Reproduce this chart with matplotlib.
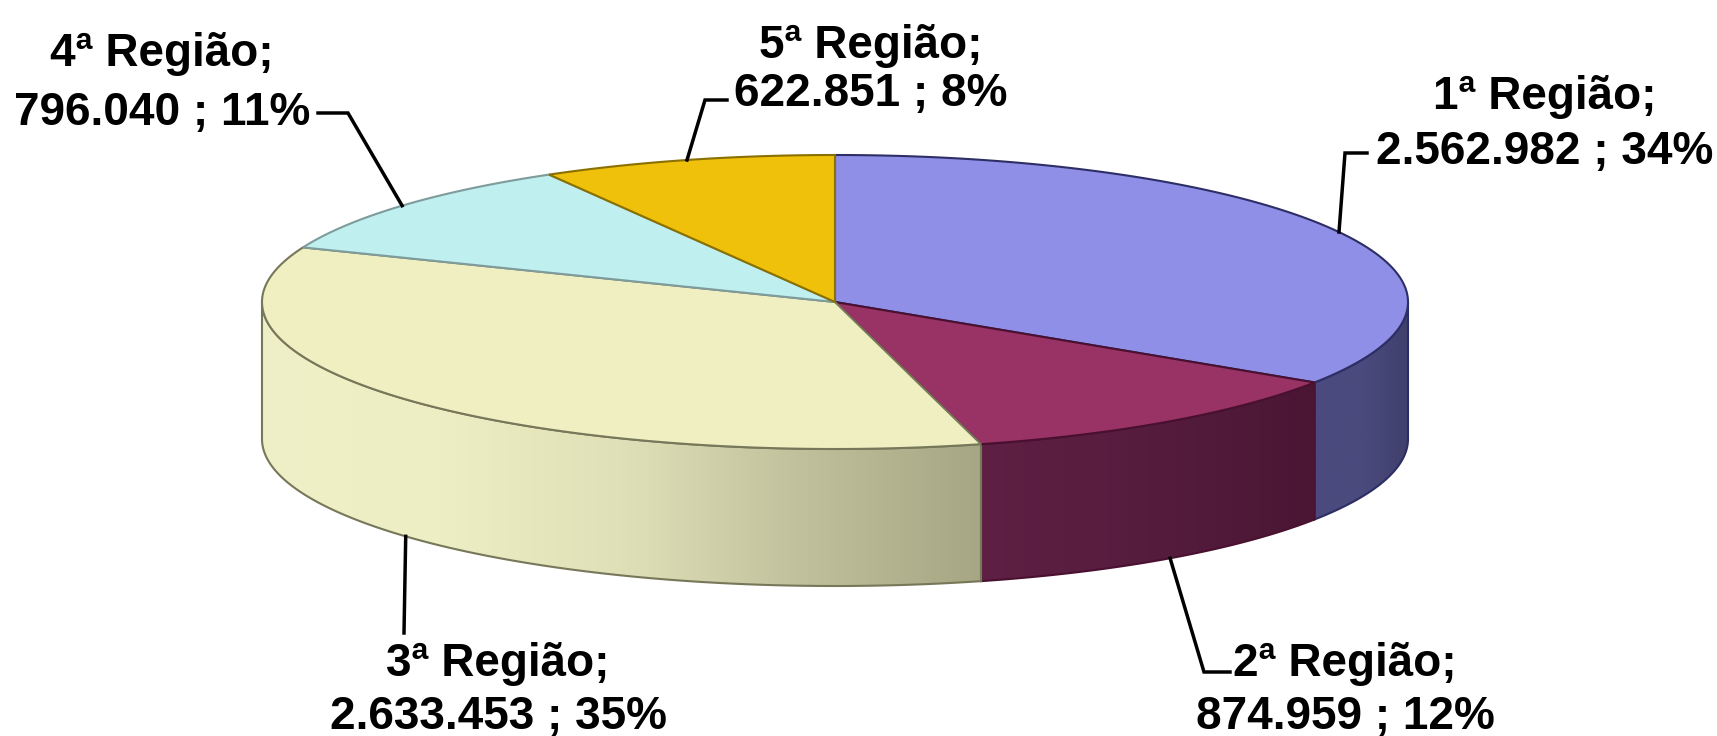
import numpy as np
import matplotlib
matplotlib.use('Agg')
import matplotlib.pyplot as plt
from matplotlib.patches import Polygon
from matplotlib.colors import LinearSegmentedColormap

# dados
regioes = ['1ª Região', '2ª Região', '3ª Região', '4ª Região', '5ª Região']
valores = [2562982, 874959, 2633453, 796040, 622851]
rotulos_valor = ['2.562.982', '874.959', '2.633.453', '796.040', '622.851']

cores_topo = ['#8f8fe8', '#993366', '#efefc2', '#c0eff0', '#efc10a']
cores_borda = ['#2e2e66', '#4a1030', '#77775a', '#7e9c9c', '#8a7000']
# lado: paradas do degrade (esquerda -> direita)
cores_lado = [['#4a4a7e', '#4a4a7e', '#40406c'],
              ['#5e2044', '#561c3e', '#4a1634'],
              ['#f0f0c8', '#eeeec4', '#e0e0b8', '#c0c09c', '#a6a684'],
              ['#90b4b4', '#80a0a0'],
              ['#b08c00', '#907000']]

plt.rcParams['font.family'] = ['Liberation Sans', 'DejaVu Sans']

fig = plt.figure(figsize=(17.17, 7.36), dpi=100, facecolor='white')
ax = fig.add_axes([0, 0, 1, 1])
ax.set_xlim(0, 1717)
ax.set_ylim(736, 0)
ax.axis('off')

# geometria da pizza 3d (pixels)
cx, cy, a, b, h = 835, 302, 573, 147, 137


def pt(ang, dz=0.0):
    r = np.radians(ang)
    return cx + a * np.cos(r), cy - b * np.sin(r) + dz


def arco(a0, a1, dz=0.0, n=200):
    angs = np.linspace(a0, a1, n)
    r = np.radians(angs)
    return np.column_stack([cx + a * np.cos(r), cy - b * np.sin(r) + dz])


total = sum(valores)
fr = np.array(valores) / total
fim = 90 - 360 * np.cumsum(fr)
ini = fim + 360 * fr

# paredes laterais (metade da frente)
for i in range(len(valores)):
    for k in (0, -360):
        lo = max(fim[i], -180 + k)
        hi = min(ini[i], 0 + k)
        if hi <= lo:
            continue
        verts = np.vstack([arco(hi, lo), arco(lo, hi, h)])
        poly = Polygon(verts, closed=True, facecolor='none',
                       edgecolor=cores_borda[i], lw=1.5, zorder=3)
        ax.add_patch(poly)
        x0, x1 = verts[:, 0].min(), verts[:, 0].max()
        y0, y1 = verts[:, 1].min(), verts[:, 1].max()
        cmap = LinearSegmentedColormap.from_list('l%d' % i, cores_lado[i])
        grad = np.linspace(0, 1, 256)[None, :]
        im = ax.imshow(grad, cmap=cmap, extent=(x0, x1, y1, y0),
                       aspect='auto', zorder=2, interpolation='bilinear')
        im.set_clip_path(poly)

# faces de cima
for i in range(len(valores)):
    verts = np.vstack([[cx, cy], arco(ini[i], fim[i])])
    ax.add_patch(Polygon(verts, closed=True, facecolor=cores_topo[i],
                         edgecolor=cores_borda[i], lw=1.5, zorder=4))
ax.set_xlim(0, 1717)
ax.set_ylim(736, 0)

# rotulos: posicao do texto (centro x, linha de base 1, linha de base 2) e quebras da linha de chamada
pos_texto = [(1545, 109, 164), (1345, 676, 729), (498, 676, 729),
             (162, 66, 125), (871, 58, 106)]
chamadas = [[(1345, 153), (1367, 153)],
            [(1204, 672), (1230, 672)],
            [(404, 633)],
            [(348, 113), (318, 113)],
            [(705, 100), (727, 100)]]

for i in range(len(valores)):
    meio = (ini[i] + fim[i]) / 2
    dz = h if np.sin(np.radians(meio)) < 0 else 0
    ax0, ay0 = pt(meio, dz)
    xs = [ax0] + [p[0] for p in chamadas[i]]
    ys = [ay0] + [p[1] for p in chamadas[i]]
    ax.plot(xs, ys, color='black', lw=2.5, zorder=5, solid_joinstyle='miter')
    tx, y1, y2 = pos_texto[i]
    pct = '%d%%' % round(fr[i] * 100)
    ax.text(tx, y1, regioes[i] + ';', ha='center', va='baseline',
            fontsize=33, fontweight='bold', color='black', zorder=6)
    ax.text(tx, y2, rotulos_valor[i] + ' ; ' + pct, ha='center', va='baseline',
            fontsize=33, fontweight='bold', color='black', zorder=6)

plt.savefig('out.png', dpi=100, facecolor='white')
